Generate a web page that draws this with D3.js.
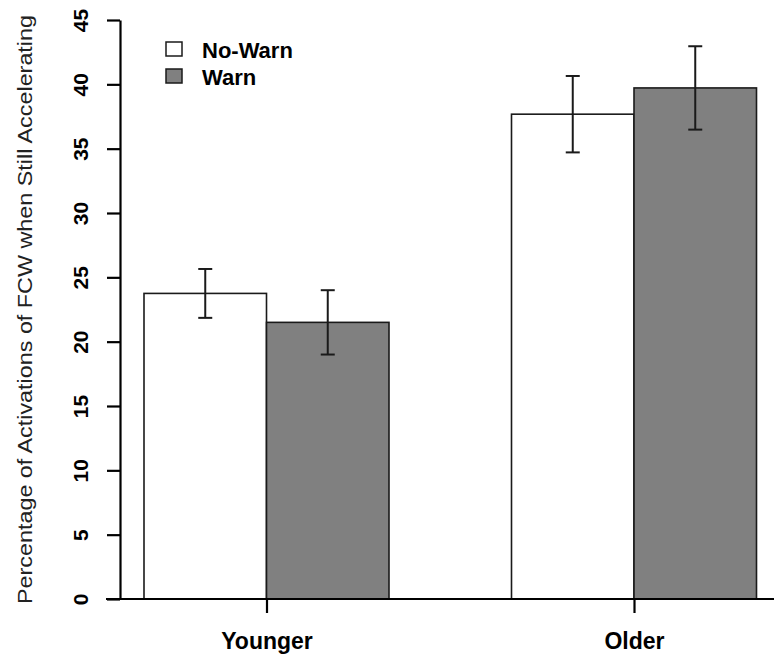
<!DOCTYPE html>
<html>
<head>
<meta charset="utf-8">
<script src="https://cdn.jsdelivr.net/npm/d3@7"></script>
<style>
  body { margin: 0; background: #fff; }
  svg { display: block; font-family: "Liberation Sans", Arial, sans-serif; }
</style>
</head>
<body>
<div id="chart"></div>
<script>
const width = 774;
const height = 660;

// data
const groups = ["Younger", "Older"];
const series = ["No-Warn", "Warn"];
const noWarnMean = [23.75, 37.68];
const noWarnErr = [1.9, 2.97];
const warnMean = [21.5, 39.72];
const warnErr = [2.5, 3.24];
const yTicks = [0, 5, 10, 15, 20, 25, 30, 35, 40, 45];

const fills = ["#ffffff", "#808080"];

// bars in "bar width" units, like R barplot(beside = TRUE)
const x = d3.scaleLinear().domain([1, 6]).range([144, 756.5]);
const y = d3.scaleLinear().domain([0, 45]).range([599, 20]);

const rows = [];
groups.forEach((g, i) => {
  const center = 2 + i * 3;
  rows.push({ group: g, s: 0, x0: center - 1, mean: noWarnMean[i], err: noWarnErr[i] });
  rows.push({ group: g, s: 1, x0: center, mean: warnMean[i], err: warnErr[i] });
});

const svg = d3.create("svg")
    .attr("width", width)
    .attr("height", height)
    .attr("viewBox", `0 0 ${width} ${height}`);

// bars
svg.append("g")
  .selectAll("rect")
  .data(rows)
  .join("rect")
    .attr("x", d => x(d.x0))
    .attr("y", d => y(d.mean))
    .attr("width", d => x(d.x0 + 1) - x(d.x0))
    .attr("height", d => y(0) - y(d.mean))
    .attr("fill", d => fills[d.s])
    .attr("stroke", "#1a1a1a")
    .attr("stroke-width", 1.6);

// error bars
const eb = svg.append("g")
    .attr("stroke", "#1a1a1a")
    .attr("stroke-width", 2)
  .selectAll("g")
  .data(rows)
  .join("g")
    .attr("transform", d => `translate(${x(d.x0 + 0.5)},0)`);
eb.append("line")
    .attr("y1", d => y(d.mean + d.err))
    .attr("y2", d => y(d.mean - d.err));
eb.append("line")
    .attr("x1", -7).attr("x2", 7)
    .attr("y1", d => y(d.mean + d.err))
    .attr("y2", d => y(d.mean + d.err));
eb.append("line")
    .attr("x1", -7).attr("x2", 7)
    .attr("y1", d => y(d.mean - d.err))
    .attr("y2", d => y(d.mean - d.err));

// x axis
svg.append("line")
    .attr("x1", 106).attr("x2", width)
    .attr("y1", y(0)).attr("y2", y(0))
    .attr("stroke", "#000")
    .attr("stroke-width", 2.2);

const xAxis = svg.append("g")
    .attr("transform", `translate(0,${y(0)})`)
    .call(d3.axisBottom(x)
      .tickValues([2, 5])
      .tickFormat((d, i) => groups[i])
      .tickSize(14)
      .tickSizeOuter(0));
xAxis.select(".domain").remove();
xAxis.selectAll("line").attr("stroke", "#000").attr("stroke-width", 2.2);
xAxis.selectAll("text")
    .attr("y", 50)
    .attr("dy", 0)
    .attr("fill", "#000")
    .style("font-size", "23px")
    .style("font-weight", "bold")
    .style("font-family", "Liberation Sans, Arial, sans-serif");

// y axis
const yAxis = svg.append("g")
    .attr("transform", "translate(120,0)")
    .call(d3.axisLeft(y)
      .tickValues(yTicks)
      .tickSize(13)
      .tickSizeOuter(0));
yAxis.select(".domain").attr("stroke", "#000").attr("stroke-width", 2.2);
yAxis.selectAll("line").attr("stroke", "#000").attr("stroke-width", 2.2);
yAxis.selectAll("text")
    .attr("x", 0)
    .attr("dy", 0)
    .attr("transform", "translate(-32,0) rotate(-90)")
    .attr("text-anchor", "middle")
    .attr("fill", "#000")
    .style("font-size", "21px")
    .style("font-weight", "bold")
    .style("font-family", "Liberation Sans, Arial, sans-serif");

// y title
svg.append("text")
    .attr("transform", `translate(32,${(y(0) + y(45)) / 2}) rotate(-90)`)
    .attr("text-anchor", "middle")
    .attr("fill", "#222")
    .attr("textLength", 589)
    .attr("lengthAdjust", "spacingAndGlyphs")
    .style("font-size", "21px")
    .text("Percentage of Activations of FCW when Still Accelerating");

// legend
const legend = svg.append("g")
  .selectAll("g")
  .data(series)
  .join("g")
    .attr("transform", (d, i) => `translate(166,${42 + i * 27})`);
legend.append("rect")
    .attr("width", 16)
    .attr("height", 14)
    .attr("fill", (d, i) => fills[i])
    .attr("stroke", "#1a1a1a")
    .attr("stroke-width", 1.5);
legend.append("text")
    .attr("x", 36)
    .attr("y", 16)
    .attr("fill", "#000")
    .style("font-size", "22px")
    .style("font-weight", "bold")
    .text(d => d);

document.getElementById("chart").appendChild(svg.node());
</script>
</body>
</html>
